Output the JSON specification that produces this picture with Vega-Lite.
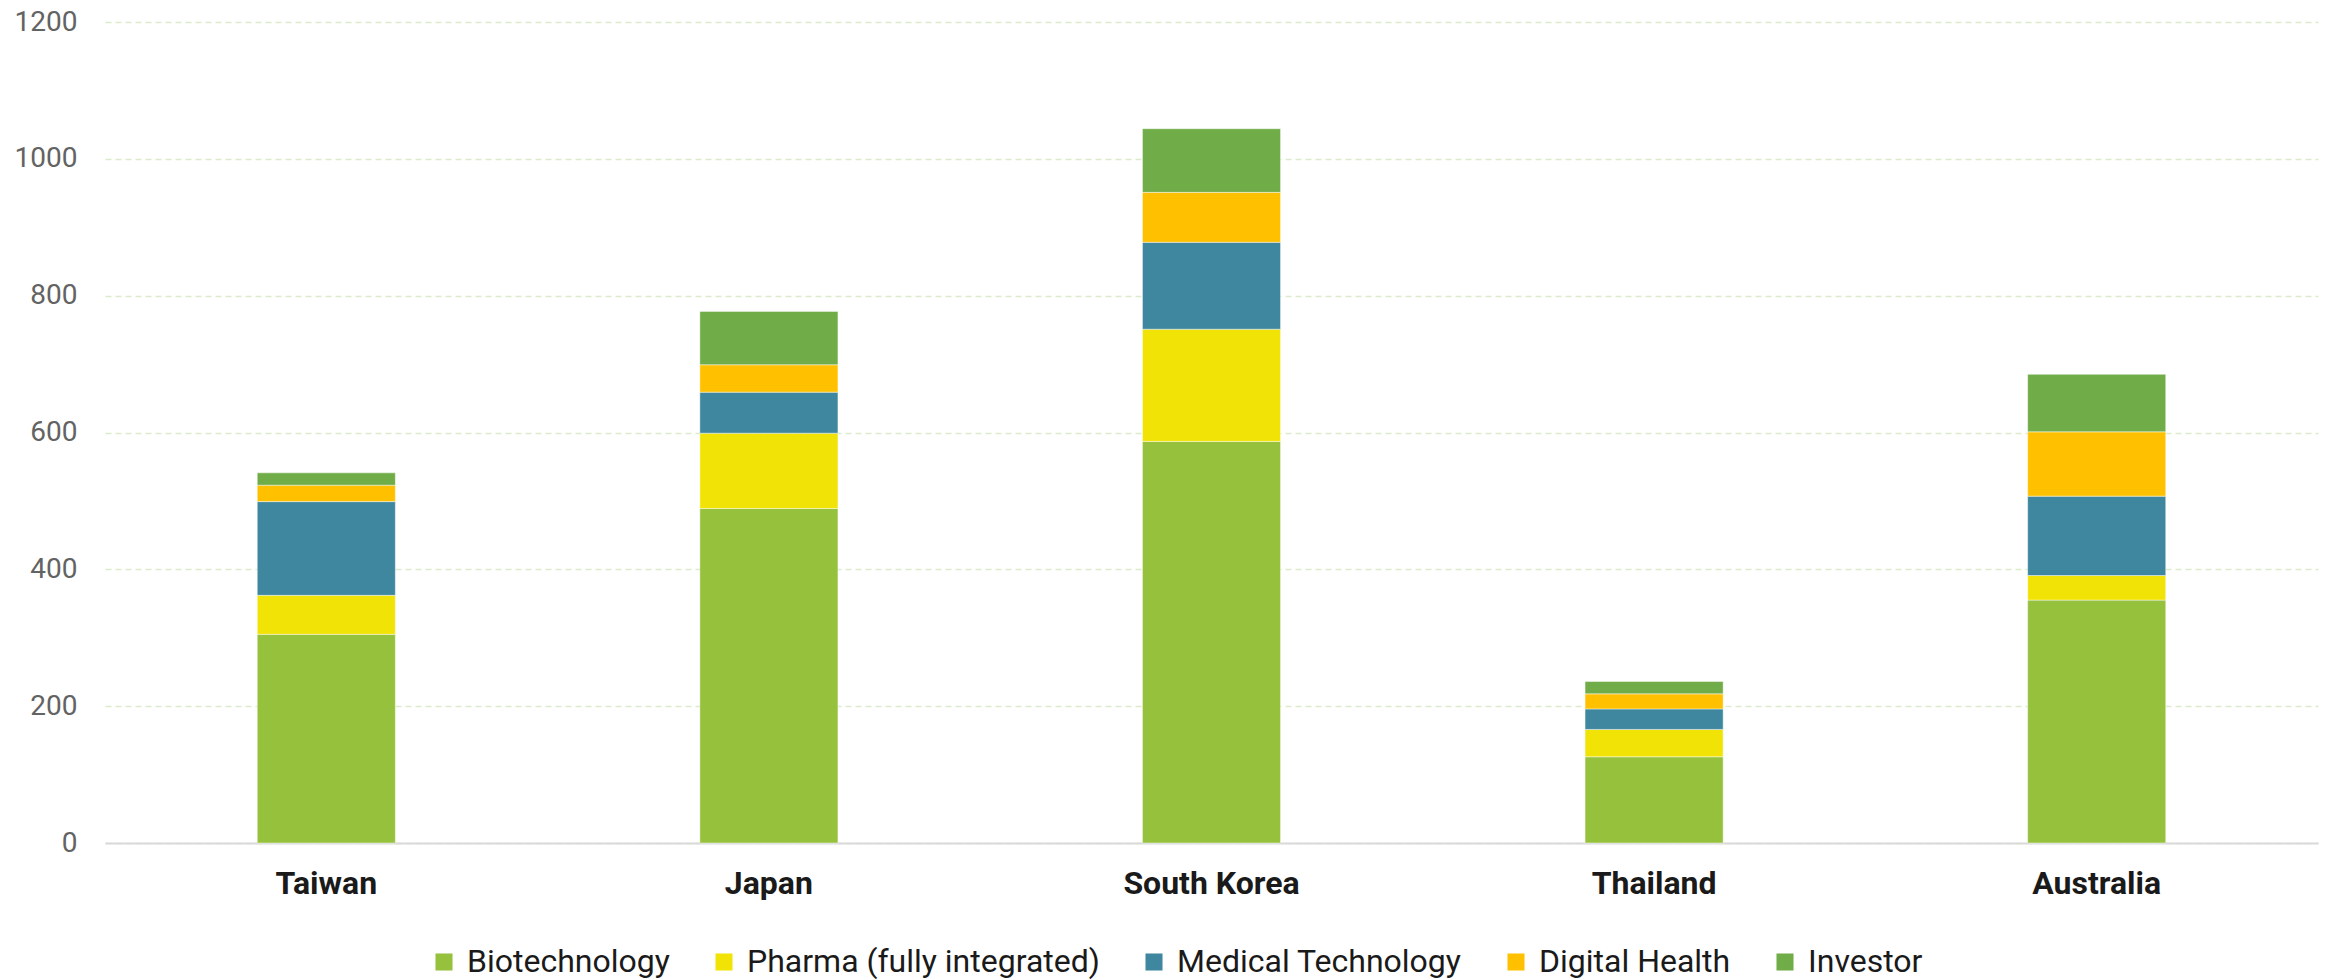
{
  "$schema": "https://vega.github.io/schema/vega-lite/v6.json",
  "width": 2213,
  "height": 821,
  "autosize": {"type": "none"},
  "padding": {"left": 105, "top": 22, "right": 10, "bottom": 137},
  "background": "#ffffff",
  "data": {
    "values": [
      {"country": "Taiwan", "sector": "Biotechnology", "value": 305},
      {"country": "Taiwan", "sector": "Pharma (fully integrated)", "value": 57},
      {"country": "Taiwan", "sector": "Medical Technology", "value": 137},
      {"country": "Taiwan", "sector": "Digital Health", "value": 24},
      {"country": "Taiwan", "sector": "Investor", "value": 18},
      {"country": "Japan", "sector": "Biotechnology", "value": 489},
      {"country": "Japan", "sector": "Pharma (fully integrated)", "value": 110},
      {"country": "Japan", "sector": "Medical Technology", "value": 60},
      {"country": "Japan", "sector": "Digital Health", "value": 40},
      {"country": "Japan", "sector": "Investor", "value": 78},
      {"country": "South Korea", "sector": "Biotechnology", "value": 587},
      {"country": "South Korea", "sector": "Pharma (fully integrated)", "value": 164},
      {"country": "South Korea", "sector": "Medical Technology", "value": 127},
      {"country": "South Korea", "sector": "Digital Health", "value": 73},
      {"country": "South Korea", "sector": "Investor", "value": 93},
      {"country": "Thailand", "sector": "Biotechnology", "value": 126},
      {"country": "Thailand", "sector": "Pharma (fully integrated)", "value": 40},
      {"country": "Thailand", "sector": "Medical Technology", "value": 30},
      {"country": "Thailand", "sector": "Digital Health", "value": 22},
      {"country": "Thailand", "sector": "Investor", "value": 18},
      {"country": "Australia", "sector": "Biotechnology", "value": 355},
      {"country": "Australia", "sector": "Pharma (fully integrated)", "value": 36},
      {"country": "Australia", "sector": "Medical Technology", "value": 116},
      {"country": "Australia", "sector": "Digital Health", "value": 94},
      {"country": "Australia", "sector": "Investor", "value": 84}
    ]
  },
  "transform": [
    {"calculate": "indexof(['Biotechnology', 'Pharma (fully integrated)', 'Medical Technology', 'Digital Health', 'Investor'], datum.sector)", "as": "stackOrder"}
  ],
  "mark": {"type": "bar", "stroke": "#ffffff", "strokeWidth": 0.75, "strokeOpacity": 0.6},
  "encoding": {
    "x": {
      "field": "country",
      "type": "nominal",
      "sort": ["Taiwan", "Japan", "South Korea", "Thailand", "Australia"],
      "scale": {"paddingInner": 0.688, "paddingOuter": 0.344},
      "axis": {
        "title": null,
        "labelAngle": 0,
        "ticks": false,
        "labelPadding": 25,
        "labelFont": "Roboto",
        "labelFontSize": 32,
        "labelFontWeight": "bold",
        "labelColor": "#1a1a1a",
        "domainColor": "#d9d9d9",
        "domainWidth": 2,
        "grid": false
      }
    },
    "y": {
      "field": "value",
      "type": "quantitative",
      "stack": "zero",
      "scale": {"domain": [0, 1200], "nice": false},
      "axis": {
        "title": null,
        "values": [0, 200, 400, 600, 800, 1000, 1200],
        "format": "d",
        "ticks": false,
        "domain": false,
        "labelPadding": 28,
        "labelFont": "Roboto",
        "labelFontSize": 28,
        "labelColor": "#636363",
        "gridColor": "#dcebcc",
        "gridWidth": 1.5,
        "gridDash": [6, 4]
      }
    },
    "order": {"field": "stackOrder", "type": "quantitative", "sort": "ascending"},
    "color": {
      "field": "sector",
      "type": "nominal",
      "sort": ["Biotechnology", "Pharma (fully integrated)", "Medical Technology", "Digital Health", "Investor"],
      "scale": {
        "domain": ["Biotechnology", "Pharma (fully integrated)", "Medical Technology", "Digital Health", "Investor"],
        "range": ["#95c13d", "#f2e307", "#3f879e", "#ffc000", "#70ac47"]
      },
      "legend": {
        "title": null,
        "orient": "none",
        "direction": "horizontal",
        "legendX": 323,
        "legendY": 924,
        "padding": 0,
        "symbolType": "square",
        "symbolSize": 290,
        "symbolStrokeWidth": 0,
        "labelFont": "Roboto",
        "labelFontSize": 32,
        "labelColor": "#1a1a1a",
        "labelOffset": 7,
        "columnPadding": 38,
        "labelLimit": 600
      }
    }
  },
  "config": {"view": {"stroke": null}}
}
